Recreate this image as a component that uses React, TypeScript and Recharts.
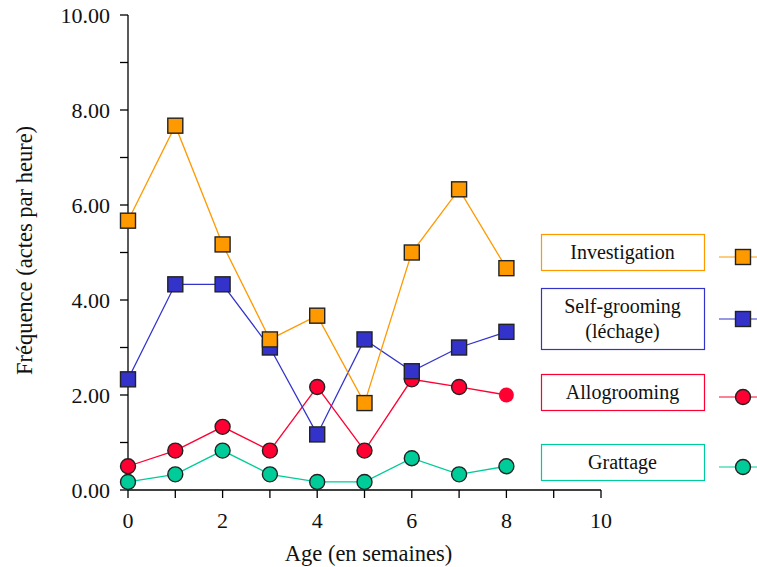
import React from 'react';
import { LineChart, Line, XAxis, YAxis, Legend } from 'recharts';

// Weekly behaviour frequencies (acts per hour) by age in weeks
const ages = [0, 1, 2, 3, 4, 5, 6, 7, 8];
const investigation = [5.67, 7.67, 5.17, 3.17, 3.67, 1.83, 5.0, 6.33, 4.67];
const selfGrooming = [2.33, 4.33, 4.33, 3.0, 1.17, 3.17, 2.5, 3.0, 3.33];
const allogrooming = [0.5, 0.83, 1.33, 0.83, 2.17, 0.83, 2.33, 2.17, 2.0];
const grattage = [0.17, 0.33, 0.83, 0.33, 0.17, 0.17, 0.67, 0.33, 0.5];

const xTicks = [0, 1, 2, 3, 4, 5, 6, 7, 8, 9, 10];
const yTicks = [0, 1, 2, 3, 4, 5, 6, 7, 8, 9, 10];

const rows = ages.map((age, i) => ({
  age,
  investigation: investigation[i],
  selfGrooming: selfGrooming[i],
  allogrooming: allogrooming[i],
  grattage: grattage[i],
}));

const FONT = "'Liberation Serif', 'DejaVu Serif', 'Noto Serif', Times, serif";

type Shape = 'square' | 'circle';
interface SeriesDef {
  key: string;
  lines: string[];
  color: string;
  shape: Shape;
  bareIndex?: number;
}

// legend order, top to bottom
const series: SeriesDef[] = [
  { key: 'investigation', lines: ['Investigation'], color: '#FF9900', shape: 'square' },
  { key: 'selfGrooming', lines: ['Self-grooming', '(léchage)'], color: '#3333CC', shape: 'square' },
  { key: 'allogrooming', lines: ['Allogrooming'], color: '#FF0033', shape: 'circle', bareIndex: 8 },
  { key: 'grattage', lines: ['Grattage'], color: '#00CC99', shape: 'circle' },
];

// legend box layout (px within the chart)
const legendBoxes = [
  { top: 234, height: 36, markY: 257 },
  { top: 288, height: 61, markY: 319 },
  { top: 374, height: 36, markY: 397 },
  { top: 444, height: 36, markY: 467 },
];

function Marker({ shape, cx, cy, fill, stroke }: { shape: Shape; cx: number; cy: number; fill: string; stroke: string }) {
  if (shape === 'square') {
    return <rect x={cx - 7.5} y={cy - 7.5} width={15} height={15} fill={fill} stroke={stroke} strokeWidth={1.4} />;
  }
  return <circle cx={cx} cy={cy} r={7.5} fill={fill} stroke={stroke} strokeWidth={1.4} />;
}

const makeDot = (s: SeriesDef) => (props: any) => {
  const { cx, cy, index } = props;
  if (cx == null || cy == null) return <g key={`e-${s.key}-${index}`} />;
  const stroke = index === s.bareIndex ? 'none' : '#222';
  return (
    <g key={`d-${s.key}-${index}`}>
      <Marker shape={s.shape} cx={cx} cy={cy} fill={s.color} stroke={stroke} />
    </g>
  );
};

const renderLegend = () => (
  <svg width={757} height={567} style={{ position: 'absolute', left: 0, top: 0 }}>
    {series.map((s, i) => {
      const b = legendBoxes[i];
      const cxText = 541 + 163 / 2;
      const first = b.top + b.height / 2 - ((s.lines.length - 1) * 25) / 2;
      return (
        <g key={s.key}>
          <rect x={541.5} y={b.top + 0.5} width={163} height={b.height} fill="#fff" stroke={s.color} strokeWidth={1.2} />
          {s.lines.map((t, j) => (
            <text
              key={t}
              x={cxText}
              y={first + j * 25}
              dy="0.34em"
              textAnchor="middle"
              style={{ fontFamily: FONT, fontSize: 20 }}
              fill="#111"
            >
              {t}
            </text>
          ))}
          <line x1={719} x2={757} y1={b.markY} y2={b.markY} stroke={s.color} strokeWidth={1.2} />
          <Marker shape={s.shape} cx={743} cy={b.markY} fill={s.color} stroke="#222" />
        </g>
      );
    })}
  </svg>
);

const yTitle = (props: any) => {
  const vb = props.viewBox || {};
  const cy = (vb.y ?? 15) + (vb.height ?? 475) / 2 - 2;
  return (
    <text
      x={32}
      y={cy}
      transform={`rotate(-90, 32, ${cy})`}
      textAnchor="middle"
      style={{ fontFamily: FONT, fontSize: 22.5 }}
      fill="#111"
    >
      Fréquence (actes par heure)
    </text>
  );
};

const xTitle = (props: any) => {
  const vb = props.viewBox || {};
  const cx = (vb.x ?? 128) + (vb.width ?? 469) / 2 + 4;
  return (
    <text x={cx} y={561} textAnchor="middle" style={{ fontFamily: FONT, fontSize: 22.5 }} fill="#111">
      Age (en semaines)
    </text>
  );
};

const tickStyle = { fontFamily: FONT, fontSize: 22, fill: '#111', style: { fontFamily: FONT } };

export default function App() {
  const drawOrder = ['grattage', 'allogrooming', 'selfGrooming', 'investigation'];
  return (
    <div style={{ position: 'absolute', left: 0, top: 0, width: 757, height: 567, background: '#fff', fontFamily: FONT }}>
      <LineChart width={757} height={567} data={rows} margin={{ top: 15, right: 156, bottom: 0, left: 0 }} style={{ fontFamily: FONT }}>
        <XAxis
          type="number"
          dataKey="age"
          domain={[0, 10]}
          ticks={xTicks}
          interval={0}
          height={77}
          tickSize={8}
          tickMargin={14}
          tick={tickStyle}
          tickFormatter={(v: number) => (v % 2 === 0 ? String(v) : '')}
          axisLine={{ stroke: '#000', strokeWidth: 1.3 }}
          tickLine={{ stroke: '#000', strokeWidth: 1.3 }}
          label={{ content: xTitle }}
        />
        <YAxis
          type="number"
          domain={[0, 10]}
          ticks={yTicks}
          interval={0}
          width={128}
          tickSize={8}
          tickMargin={10}
          tick={tickStyle}
          tickFormatter={(v: number) => (v % 2 === 0 ? v.toFixed(2) : '')}
          axisLine={{ stroke: '#000', strokeWidth: 1.3 }}
          tickLine={{ stroke: '#000', strokeWidth: 1.3 }}
          label={{ content: yTitle }}
        />
        <Legend
          layout="vertical"
          align="center"
          verticalAlign="middle"
          content={renderLegend}
          wrapperStyle={{ position: 'absolute', left: 0, top: 0, width: 757, height: 567, pointerEvents: 'none' }}
        />
        {drawOrder.map((k) => {
          const s = series.find((d) => d.key === k)!;
          return (
            <Line
              key={k}
              type="linear"
              dataKey={k}
              stroke={s.color}
              strokeWidth={1.3}
              dot={makeDot(s)}
              activeDot={false}
              isAnimationActive={false}
            />
          );
        })}
      </LineChart>
    </div>
  );
}
